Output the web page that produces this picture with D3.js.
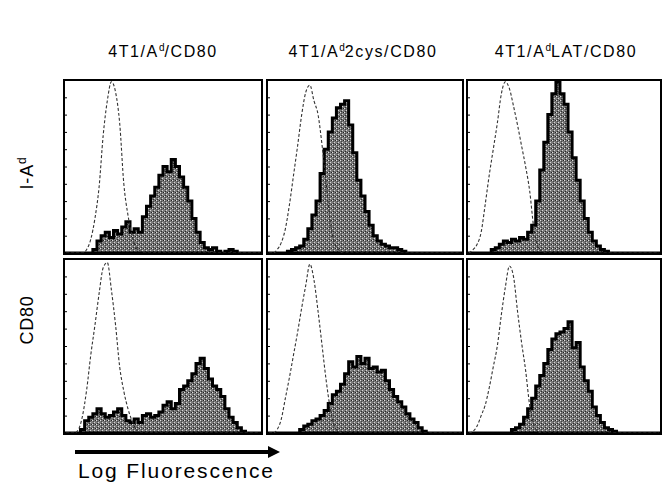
<!DOCTYPE html>
<html><head><meta charset="utf-8">
<script src="https://cdn.jsdelivr.net/npm/d3@7"></script>
<style>body{margin:0;background:#fff}svg{display:block}</style>
</head><body>
<svg id="c" width="662" height="485"></svg>
<script>
// ---------- data ----------
const columnTitles = [["4T1/A","d","/CD80"],["4T1/A","d","2cys/CD80"],["4T1/A","d","LAT/CD80"]];
const rowLabels = [["I-A","d"],["CD80",""]];
const axisLabel = "Log Fluorescence";
const NBINS = 48;

// control (isotype, dashed) histograms, relative counts per log-fluorescence bin
const ctrlIAd_A    = [0,0,0,0,0,0.02,0.08,0.2,0.38,0.68,0.88,0.99,0.93,0.75,0.4,0.22,0.1,0.03,0.01];
const ctrlIAd_2cys = [0,0,0.02,0.06,0.14,0.28,0.45,0.62,0.8,0.93,0.97,0.88,0.8,0.62,0.4,0.18,0.06,0.02];
const ctrlIAd_LAT  = [0,0.02,0.05,0.12,0.28,0.45,0.6,0.75,0.92,0.99,0.95,0.85,0.74,0.62,0.5,0.36,0.15,0.04,0.01];
const ctrlCD80_A    = [0,0,0,0.02,0.1,0.25,0.45,0.62,0.8,0.95,0.98,0.82,0.62,0.38,0.24,0.14,0.07,0.02];
const ctrlCD80_2cys = [0,0,0.02,0.08,0.2,0.32,0.45,0.58,0.72,0.85,0.97,0.88,0.7,0.5,0.3,0.14,0.04,0.01];
const ctrlCD80_LAT  = [0,0.01,0.04,0.1,0.16,0.26,0.38,0.5,0.68,0.84,0.96,0.9,0.7,0.52,0.36,0.16,0.05,0.01];

// stained (filled) histograms
const stainIAd_A    = [0,0,0,0,0,0,0,0.02,0.07,0.1,0.12,0.09,0.13,0.11,0.15,0.18,0.12,0.14,0.12,0.21,0.27,0.33,0.38,0.45,0.5,0.47,0.54,0.5,0.44,0.38,0.3,0.2,0.12,0.06,0.03,0.02,0.03,0.01,0,0.01,0.02,0.01];
const stainIAd_2cys = [0,0,0,0,0,0.01,0.02,0.03,0.04,0.08,0.14,0.22,0.3,0.46,0.6,0.7,0.78,0.84,0.86,0.88,0.74,0.58,0.42,0.33,0.24,0.16,0.1,0.07,0.05,0.04,0.03,0.03,0.02,0.01];
const stainIAd_LAT  = [0,0,0,0,0,0,0.02,0.03,0.05,0.07,0.06,0.08,0.07,0.09,0.08,0.12,0.16,0.3,0.48,0.64,0.8,0.92,0.99,0.92,0.86,0.7,0.55,0.42,0.3,0.2,0.12,0.07,0.04,0.02,0.01];
const stainCD80_A    = [0,0,0,0,0.02,0.07,0.09,0.11,0.14,0.11,0.09,0.1,0.12,0.14,0.1,0.07,0.06,0.08,0.06,0.1,0.11,0.09,0.1,0.12,0.16,0.18,0.14,0.17,0.25,0.27,0.3,0.34,0.4,0.43,0.37,0.31,0.27,0.25,0.21,0.14,0.09,0.06,0.03,0.01];
const stainCD80_2cys = [0,0,0,0,0,0,0,0,0.02,0.04,0.05,0.07,0.08,0.1,0.13,0.17,0.22,0.24,0.28,0.34,0.41,0.38,0.44,0.4,0.43,0.37,0.38,0.35,0.36,0.3,0.25,0.21,0.18,0.15,0.11,0.08,0.06,0.03,0.01];
const stainCD80_LAT  = [0,0,0,0,0,0,0,0,0,0,0,0.02,0.03,0.05,0.09,0.14,0.2,0.27,0.33,0.4,0.48,0.54,0.57,0.58,0.6,0.64,0.49,0.52,0.38,0.3,0.24,0.15,0.1,0.06,0.03,0.02,0.01];

const panels = [
  {row:0,col:0,ctrl:ctrlIAd_A,stain:stainIAd_A},
  {row:0,col:1,ctrl:ctrlIAd_2cys,stain:stainIAd_2cys},
  {row:0,col:2,ctrl:ctrlIAd_LAT,stain:stainIAd_LAT},
  {row:1,col:0,ctrl:ctrlCD80_A,stain:stainCD80_A},
  {row:1,col:1,ctrl:ctrlCD80_2cys,stain:stainCD80_2cys},
  {row:1,col:2,ctrl:ctrlCD80_LAT,stain:stainCD80_LAT}
];

// ---------- layout ----------
const colX = [64, 267, 467], colW = [198, 196, 194];
const rowY = [80, 259], rowH = [174, 175];
const font = "'Liberation Sans', Arial, sans-serif";

const svg = d3.select("#c");
const defs = svg.append("defs");
const pat = defs.append("pattern").attr("id","stip").attr("width",4).attr("height",4).attr("patternUnits","userSpaceOnUse");
pat.append("rect").attr("width",4).attr("height",4).attr("fill","#787878");
pat.append("rect").attr("x",0).attr("y",0).attr("width",1).attr("height",1).attr("fill","#e0e0e0");
pat.append("rect").attr("x",2).attr("y",2).attr("width",1).attr("height",1).attr("fill","#d8d8d8");
pat.append("rect").attr("x",3).attr("y",0).attr("width",1).attr("height",1).attr("fill","#222");
pat.append("rect").attr("x",1).attr("y",3).attr("width",1).attr("height",1).attr("fill","#2a2a2a");
pat.append("rect").attr("x",1).attr("y",1).attr("width",1).attr("height",1).attr("fill","#444");

const pad = a => { const r = a.slice(); while (r.length < NBINS) r.push(0); return r; };

panels.forEach((p, k) => {
  const x0 = colX[p.col], w = colW[p.col], y0 = rowY[p.row], h = rowH[p.row];
  const x = d3.scaleLinear().domain([0, NBINS]).range([x0, x0 + w]);
  const y = d3.scaleLinear().domain([0, 1]).range([y0 + h - 1, y0]);
  const g = svg.append("g");
  defs.append("clipPath").attr("id","cp"+k).append("rect").attr("x",x0).attr("y",y0).attr("width",w).attr("height",h);
  const inner = g.append("g").attr("clip-path","url(#cp"+k+")");

  const stain = pad(p.stain);
  const stepPts = stain.map((v,i)=>[i,v]).concat([[NBINS, stain[NBINS-1]]]);
  const area = d3.area().x(d=>x(d[0])).y0(y(0)).y1(d=>y(d[1])).curve(d3.curveStepAfter);
  inner.append("path").datum(stepPts).attr("d", area)
    .attr("fill","url(#stip)").attr("stroke","#000").attr("stroke-width",3).attr("stroke-linejoin","miter");

  const ctrl = pad(p.ctrl);
  const line = d3.line().x((d,i)=>x(i+0.5)).y(d=>y(d)).curve(d3.curveMonotoneX);
  inner.append("path").datum(ctrl).attr("d", line)
    .attr("fill","none").attr("stroke","#333").attr("stroke-width",1.1).attr("stroke-dasharray","3,2");

  // ticks on left edge
  const ax = d3.axisRight(y).ticks(8).tickSize(3).tickFormat("");
  const ag = g.append("g").attr("transform",`translate(${x0},0)`).call(ax);
  ag.select(".domain").remove();
  ag.selectAll("line").attr("stroke","#000");

  g.append("rect").attr("x",x0).attr("y",y0).attr("width",w).attr("height",h)
    .attr("fill","none").attr("stroke","#000").attr("stroke-width",2);
});

// column titles
const titleCx = [163, 363, 566];
columnTitles.forEach((t,i) => {
  const tx = svg.append("text").attr("x", titleCx[i]).attr("y", 57).attr("text-anchor","middle")
    .attr("font-family", font).attr("font-size", 16).attr("letter-spacing", 1.6).attr("fill","#000");
  tx.append("tspan").text(t[0]);
  tx.append("tspan").attr("dy",-6).attr("font-size",10).attr("letter-spacing",0).text(t[1]);
  tx.append("tspan").attr("dy",6).text(t[2]);
});

// row labels
const rowCy = [173, 320];
rowLabels.forEach((t,i) => {
  const tx = svg.append("text").attr("transform",`translate(33,${rowCy[i]}) rotate(-90)`).attr("text-anchor","middle")
    .attr("font-family", font).attr("font-size", 18).attr("letter-spacing", 0.8).attr("fill","#000");
  tx.append("tspan").text(t[0]);
  if (t[1]) tx.append("tspan").attr("dy",-7).attr("font-size",12).text(t[1]);
});

// arrow + axis label
defs.append("marker").attr("id","ah").attr("viewBox","0 0 10 10").attr("refX",0).attr("refY",5)
  .attr("markerWidth",3).attr("markerHeight",3).attr("orient","auto")
  .append("path").attr("d","M0,0 L10,5 L0,10 Z").attr("fill","#000");
svg.append("line").attr("x1",75).attr("y1",452).attr("x2",268).attr("y2",452)
  .attr("stroke","#000").attr("stroke-width",4).attr("marker-end","url(#ah)");
svg.append("text").attr("x",78).attr("y",478).attr("font-family",font).attr("font-size",21)
  .attr("textLength",195).attr("lengthAdjust","spacing").attr("fill","#000").text(axisLabel);
</script>
</body></html>
